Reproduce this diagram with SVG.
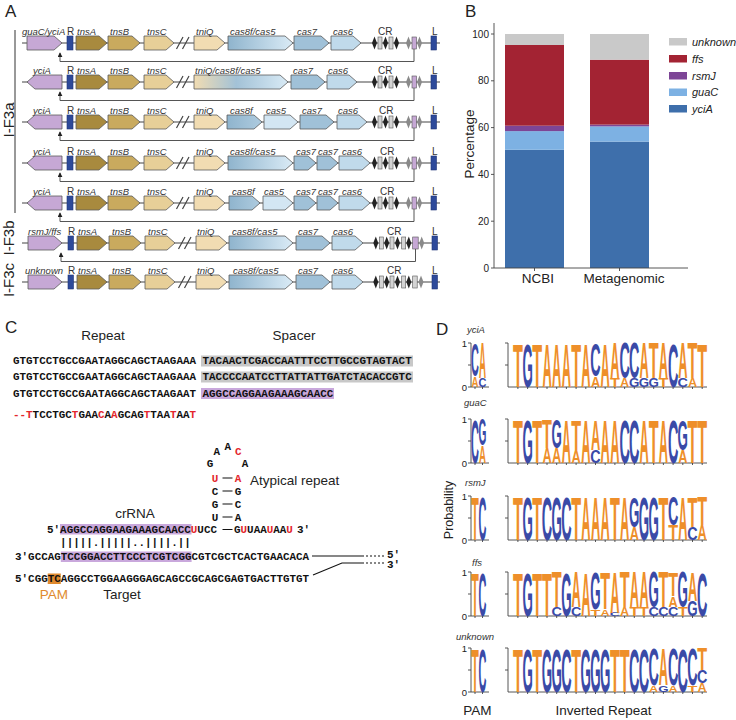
<svg xmlns="http://www.w3.org/2000/svg" width="736" height="720" viewBox="0 0 736 720">
<defs>
<style>
.t{font-family:"Liberation Sans",Arial,sans-serif;fill:#222}
.gl{font-family:"Liberation Sans",Arial,sans-serif;font-style:italic;font-size:9.5px;fill:#333}
.gn{font-family:"Liberation Sans",Arial,sans-serif;font-size:10px;fill:#333}
.pl{font-family:"Liberation Sans",Arial,sans-serif;font-size:17px;fill:#222}
.gene{stroke:#5a5a5a;stroke-width:0.8}
.bb{stroke:#444;stroke-width:1.2;fill:none}
.pu{fill:#c6a8d5}
.ta{fill:#a88a3e}.tb{fill:#c9aa5e}.tc{fill:#e7cf98}.tq{fill:#f1dcb2}
.c7{fill:#a0c1d8}.c6{fill:#c0daeb}.c5{fill:#d3e6f3}
.rl{fill:#2e4a9a;stroke:#1f3577;stroke-width:0.6}
.dk{fill:#222}.gr{fill:#d4d4d4;stroke:#555;stroke-width:0.6}.gd{fill:#8a8a8a}
.crp{fill:#c6a8d5;stroke:#555;stroke-width:0.6}
.cn{fill:none;stroke:#555;stroke-width:1}
.sq{font-family:"Liberation Mono","DejaVu Sans Mono",monospace;font-weight:bold;font-size:10.9px;fill:#111}
.r{fill:#e3262c}
.ax{fill:none;stroke:#444;stroke-width:0.9}
.L{font-family:"Liberation Sans",Arial,sans-serif;font-weight:bold;font-size:100px;text-anchor:middle}
.o{fill:#ee8f2a}.b{fill:#3a4aa7}
.tk{font-family:"Liberation Sans",Arial,sans-serif;font-size:9.5px;fill:#222;text-anchor:end}
</style>
<linearGradient id="g85" x1="0" x2="1" y1="0" y2="0"><stop offset="0" stop-color="#8fb4cd"/><stop offset="1" stop-color="#daebf6"/></linearGradient>
<linearGradient id="g8" x1="0" x2="1" y1="0" y2="0"><stop offset="0" stop-color="#8fb4cd"/><stop offset="1" stop-color="#aecbdf"/></linearGradient>
<linearGradient id="gq" x1="0" x2="1" y1="0" y2="0"><stop offset="0" stop-color="#f1dcb2"/><stop offset="0.45" stop-color="#a3c2d7"/><stop offset="1" stop-color="#d8eaf5"/></linearGradient>
<marker id="ah" viewBox="0 0 6 6" refX="5" refY="3" markerWidth="5" markerHeight="5" orient="auto"><path d="M0,0L6,3L0,6z" fill="#222"/></marker>
<g id="cr5">
<polygon class="dk" points="374.5,-6.5 377,0 374.5,6.5 372,0"/>
<rect class="gr" x="378" y="-6" width="4" height="12"/>
<polygon class="dk" points="385.5,-6.5 388,0 385.5,6.5 383,0"/>
<rect class="gr" x="389" y="-6" width="4" height="12"/>
<polygon class="dk" points="396.5,-6.5 399,0 396.5,6.5 394,0"/>
<polygon class="gd" points="408.5,-6.5 411,0 408.5,6.5 406,0"/>
<rect class="crp" x="412" y="-6" width="4.5" height="12"/>
<polygon class="gd" points="419.5,-6.5 422,0 419.5,6.5 417,0"/>
</g>
</defs>
<rect width="736" height="720" fill="#fff"/>

<!-- Panel labels -->
<text class="pl" x="5" y="17">A</text>
<text class="pl" x="465" y="17">B</text>
<text class="pl" x="5" y="333">C</text>
<text class="pl" x="436" y="335">D</text>

<!-- Panel A group labels -->
<g id="groupA">
<line x1="15" y1="30" x2="15" y2="213" stroke="#333" stroke-width="1"/>
<text class="t" font-size="15" text-anchor="middle" transform="translate(13.5,120) rotate(-90)">I-F3a</text>
<text class="t" font-size="15" text-anchor="middle" transform="translate(13.5,238) rotate(-90)">I-F3b</text>
<text class="t" font-size="15" text-anchor="middle" transform="translate(13.5,280) rotate(-90)">I-F3c</text>
</g>

<!-- Row 1 -->
<g id="row1" transform="translate(0,43)">
<path class="bb" d="M22,0H440"/>
<path class="bb" d="M176.5,6L183,-6M182.5,6L189,-6"/>
<g id="r1-guaC"><polygon class="gene pu" points="27,-7 54,-7 62,0 54,7 27,7"/><text class="gl" x="22" y="-8.5">guaC/yciA</text></g>
<g id="r1-R"><rect class="rl" x="67" y="-7" width="6" height="14"/><text class="gn" x="67" y="-8.5">R</text></g>
<g id="r1-tnsA"><polygon class="gene ta" points="76,-7 99,-7 107,0 99,7 76,7"/><text class="gl" x="77" y="-8.5">tnsA</text></g>
<g id="r1-tnsB"><polygon class="gene tb" points="108,-7 132,-7 140,0 132,7 108,7"/><text class="gl" x="110" y="-8.5">tnsB</text></g>
<g id="r1-tnsC"><polygon class="gene tc" points="144,-7 166,-7 174,0 166,7 144,7"/><text class="gl" x="147" y="-8.5">tnsC</text></g>
<g id="r1-tniQ"><polygon class="gene tq" points="194,-7 217,-7 225,0 217,7 194,7"/><text class="gl" x="196" y="-8.5">tniQ</text></g>
<g id="r1-cas8f5"><polygon class="gene" fill="url(#g85)" points="228,-7 285,-7 293,0 285,7 228,7"/><text class="gl" x="230" y="-8.5">cas8f/cas5</text></g>
<g id="r1-cas7"><polygon class="gene c7" points="294,-7 321,-7 329,0 321,7 294,7"/><text class="gl" x="297" y="-8.5">cas7</text></g>
<g id="r1-cas6"><polygon class="gene c6" points="331,-7 353,-7 361,0 353,7 331,7"/><text class="gl" x="333" y="-8.5">cas6</text></g>
<g id="r1-CR"><use href="#cr5"/><text class="gn" x="378" y="-8.5">CR</text></g>
<g id="r1-L"><rect class="rl" x="431" y="-7" width="5.5" height="14"/><text class="gn" x="432" y="-8.5">L</text></g>
</g>

<!-- Row 2 -->
<g id="row2" transform="translate(0,82)">
<path class="bb" d="M22,0H440"/>
<path class="bb" d="M176.5,6L183,-6M182.5,6L189,-6"/>
<g id="r2-yciA"><polygon class="gene pu" points="27,0 35,-7 62,-7 62,7 35,7"/><text class="gl" x="33" y="-8.5">yciA</text></g>
<g id="r2-R"><rect class="rl" x="67" y="-7" width="6" height="14"/><text class="gn" x="67" y="-8.5">R</text></g>
<g id="r2-tnsA"><polygon class="gene ta" points="76,-7 99,-7 107,0 99,7 76,7"/><text class="gl" x="77" y="-8.5">tnsA</text></g>
<g id="r2-tnsB"><polygon class="gene tb" points="108,-7 132,-7 140,0 132,7 108,7"/><text class="gl" x="110" y="-8.5">tnsB</text></g>
<g id="r2-tnsC"><polygon class="gene tc" points="144,-7 166,-7 174,0 166,7 144,7"/><text class="gl" x="147" y="-8.5">tnsC</text></g>
<g id="r2-tniQ"><polygon class="gene" fill="url(#gq)" points="194,-7 280,-7 288,0 280,7 194,7"/><text class="gl" x="195" y="-8.5">tniQ/cas8f/cas5</text></g>
<g id="r2-cas7"><polygon class="gene c7" points="291,-7 317,-7 325,0 317,7 291,7"/><text class="gl" x="293" y="-8.5">cas7</text></g>
<g id="r2-cas6"><polygon class="gene c6" points="327,-7 349,-7 357,0 349,7 327,7"/><text class="gl" x="328" y="-8.5">cas6</text></g>
<g id="r2-CR"><use href="#cr5"/><text class="gn" x="378" y="-8.5">CR</text></g>
<g id="r2-L"><rect class="rl" x="431" y="-7" width="5.5" height="14"/><text class="gn" x="432" y="-8.5">L</text></g>
</g>

<!-- Row 3 -->
<g id="row3" transform="translate(0,122)">
<path class="bb" d="M22,0H440"/>
<path class="bb" d="M176.5,6L183,-6M182.5,6L189,-6"/>
<g id="r3-yciA"><polygon class="gene pu" points="27,0 35,-7 62,-7 62,7 35,7"/><text class="gl" x="33" y="-8.5">yciA</text></g>
<g id="r3-R"><rect class="rl" x="67" y="-7" width="6" height="14"/><text class="gn" x="67" y="-8.5">R</text></g>
<g id="r3-tnsA"><polygon class="gene ta" points="76,-7 99,-7 107,0 99,7 76,7"/><text class="gl" x="77" y="-8.5">tnsA</text></g>
<g id="r3-tnsB"><polygon class="gene tb" points="108,-7 132,-7 140,0 132,7 108,7"/><text class="gl" x="110" y="-8.5">tnsB</text></g>
<g id="r3-tnsC"><polygon class="gene tc" points="144,-7 166,-7 174,0 166,7 144,7"/><text class="gl" x="147" y="-8.5">tnsC</text></g>
<g id="r3-tniQ"><polygon class="gene tq" points="194,-7 217,-7 225,0 217,7 194,7"/><text class="gl" x="196" y="-8.5">tniQ</text></g>
<g id="r3-cas8f"><polygon class="gene" fill="url(#g8)" points="227,-7 254,-7 262,0 254,7 227,7"/><text class="gl" x="230" y="-8.5">cas8f</text></g>
<g id="r3-cas5"><polygon class="gene c5" points="264,-7 290,-7 298,0 290,7 264,7"/><text class="gl" x="266" y="-8.5">cas5</text></g>
<g id="r3-cas7"><polygon class="gene c7" points="300,-7 326,-7 334,0 326,7 300,7"/><text class="gl" x="302" y="-8.5">cas7</text></g>
<g id="r3-cas6"><polygon class="gene c6" points="337,-7 359,-7 367,0 359,7 337,7"/><text class="gl" x="338" y="-8.5">cas6</text></g>
<g id="r3-CR"><use href="#cr5"/><text class="gn" x="379" y="-8.5">CR</text></g>
<g id="r3-L"><rect class="rl" x="431" y="-7" width="5.5" height="14"/><text class="gn" x="432" y="-8.5">L</text></g>
</g>

<!-- Row 4 -->
<g id="row4" transform="translate(0,163)">
<path class="bb" d="M22,0H440"/>
<path class="bb" d="M176.5,6L183,-6M182.5,6L189,-6"/>
<g id="r4-yciA"><polygon class="gene pu" points="27,0 35,-7 62,-7 62,7 35,7"/><text class="gl" x="33" y="-8.5">yciA</text></g>
<g id="r4-R"><rect class="rl" x="67" y="-7" width="6" height="14"/><text class="gn" x="67" y="-8.5">R</text></g>
<g id="r4-tnsA"><polygon class="gene ta" points="76,-7 99,-7 107,0 99,7 76,7"/><text class="gl" x="77" y="-8.5">tnsA</text></g>
<g id="r4-tnsB"><polygon class="gene tb" points="108,-7 132,-7 140,0 132,7 108,7"/><text class="gl" x="110" y="-8.5">tnsB</text></g>
<g id="r4-tnsC"><polygon class="gene tc" points="144,-7 166,-7 174,0 166,7 144,7"/><text class="gl" x="147" y="-8.5">tnsC</text></g>
<g id="r4-tniQ"><polygon class="gene tq" points="194,-7 217,-7 225,0 217,7 194,7"/><text class="gl" x="196" y="-8.5">tniQ</text></g>
<g id="r4-cas8f5"><polygon class="gene" fill="url(#g85)" points="228,-7 285,-7 293,0 285,7 228,7"/><text class="gl" x="230" y="-8.5">cas8f/cas5</text></g>
<g id="r4-cas7a"><polygon class="gene c7" points="294,-7 308,-7 316,0 308,7 294,7"/><text class="gl" x="296" y="-8.5">cas7</text></g>
<g id="r4-cas7b"><polygon class="gene c7" points="317,-7 330,-7 338,0 330,7 317,7"/><text class="gl" x="318" y="-8.5">cas7</text></g>
<g id="r4-cas6"><polygon class="gene c6" points="339,-7 362,-7 370,0 362,7 339,7"/><text class="gl" x="342" y="-8.5">cas6</text></g>
<g id="r4-CR"><use href="#cr5"/><text class="gn" x="380" y="-8.5">CR</text></g>
<g id="r4-L"><rect class="rl" x="431" y="-7" width="5.5" height="14"/><text class="gn" x="432" y="-8.5">L</text></g>
</g>

<!-- Row 5 -->
<g id="row5" transform="translate(0,203)">
<path class="bb" d="M22,0H440"/>
<path class="bb" d="M176.5,6L183,-6M182.5,6L189,-6"/>
<g id="r5-yciA"><polygon class="gene pu" points="27,0 35,-7 62,-7 62,7 35,7"/><text class="gl" x="33" y="-8.5">yciA</text></g>
<g id="r5-R"><rect class="rl" x="67" y="-7" width="6" height="14"/><text class="gn" x="67" y="-8.5">R</text></g>
<g id="r5-tnsA"><polygon class="gene ta" points="76,-7 99,-7 107,0 99,7 76,7"/><text class="gl" x="77" y="-8.5">tnsA</text></g>
<g id="r5-tnsB"><polygon class="gene tb" points="108,-7 132,-7 140,0 132,7 108,7"/><text class="gl" x="110" y="-8.5">tnsB</text></g>
<g id="r5-tnsC"><polygon class="gene tc" points="144,-7 166,-7 174,0 166,7 144,7"/><text class="gl" x="147" y="-8.5">tnsC</text></g>
<g id="r5-tniQ"><polygon class="gene tq" points="194,-7 217,-7 225,0 217,7 194,7"/><text class="gl" x="196" y="-8.5">tniQ</text></g>
<g id="r5-cas8f"><polygon class="gene" fill="url(#g8)" points="229,-7 252,-7 260,0 252,7 229,7"/><text class="gl" x="232" y="-8.5">cas8f</text></g>
<g id="r5-cas5"><polygon class="gene c5" points="263,-7 285,-7 293,0 285,7 263,7"/><text class="gl" x="264" y="-8.5">cas5</text></g>
<g id="r5-cas7a"><polygon class="gene c7" points="294,-7 308,-7 316,0 308,7 294,7"/><text class="gl" x="296" y="-8.5">cas7</text></g>
<g id="r5-cas7b"><polygon class="gene c7" points="317,-7 330,-7 338,0 330,7 317,7"/><text class="gl" x="318" y="-8.5">cas7</text></g>
<g id="r5-cas6"><polygon class="gene c6" points="339,-7 362,-7 370,0 362,7 339,7"/><text class="gl" x="342" y="-8.5">cas6</text></g>
<g id="r5-CR"><use href="#cr5"/><text class="gn" x="380" y="-8.5">CR</text></g>
<g id="r5-L"><rect class="rl" x="431" y="-7" width="5.5" height="14"/><text class="gn" x="432" y="-8.5">L</text></g>
</g>

<!-- Row 6 -->
<g id="row6" transform="translate(0,243)">
<path class="bb" d="M22,0H440"/>
<path class="bb" d="M178.5,6L185,-6M184.5,6L191,-6"/>
<g id="r6-rsmJ"><polygon class="gene pu" points="28,-7 54,-7 62,0 54,7 28,7"/><text class="gl" x="28" y="-8.5">rsmJ/ffs</text></g>
<g id="r6-R"><rect class="rl" x="68" y="-7" width="5.5" height="14"/><text class="gn" x="68" y="-8.5">R</text></g>
<g id="r6-tnsA"><polygon class="gene ta" points="77,-7 99,-7 107,0 99,7 77,7"/><text class="gl" x="78" y="-8.5">tnsA</text></g>
<g id="r6-tnsB"><polygon class="gene tb" points="109,-7 133,-7 141,0 133,7 109,7"/><text class="gl" x="112" y="-8.5">tnsB</text></g>
<g id="r6-tnsC"><polygon class="gene tc" points="145,-7 167,-7 175,0 167,7 145,7"/><text class="gl" x="148" y="-8.5">tnsC</text></g>
<g id="r6-tniQ"><polygon class="gene tq" points="196,-7 219,-7 227,0 219,7 196,7"/><text class="gl" x="197" y="-8.5">tniQ</text></g>
<g id="r6-cas8f5"><polygon class="gene" fill="url(#g85)" points="229,-7 285,-7 293,0 285,7 229,7"/><text class="gl" x="232" y="-8.5">cas8f/cas5</text></g>
<g id="r6-cas7"><polygon class="gene c7" points="296,-7 322,-7 330,0 322,7 296,7"/><text class="gl" x="298" y="-8.5">cas7</text></g>
<g id="r6-cas6"><polygon class="gene c6" points="332,-7 355,-7 363,0 355,7 332,7"/><text class="gl" x="333" y="-8.5">cas6</text></g>
<g id="r6-CR">
<polygon class="dk" points="375.8,-6.5 378.3,0 375.8,6.5 373.3,0"/>
<rect class="gr" x="379.3" y="-6" width="4" height="12"/>
<polygon class="dk" points="386.7,-6.5 389.2,0 386.7,6.5 384.2,0"/>
<rect class="gr" x="390" y="-6" width="4" height="12"/>
<polygon class="dk" points="397.5,-6.5 400,0 397.5,6.5 395,0"/>
<rect class="gr" x="401.7" y="-6" width="4" height="12"/>
<polygon class="dk" points="408.8,-6.5 411.3,0 408.8,6.5 406.3,0"/>
<rect class="crp" x="412.7" y="-6" width="5.5" height="12"/>
<polygon class="gd" points="421.7,-6.5 424.2,0 421.7,6.5 419.2,0"/>
<text class="gn" x="387" y="-8.5">CR</text></g>
<g id="r6-L"><rect class="rl" x="432" y="-7" width="5.5" height="14"/><text class="gn" x="432" y="-8.5">L</text></g>
</g>

<!-- Row 7 -->
<g id="row7" transform="translate(0,282)">
<path class="bb" d="M22,0H440"/>
<path class="bb" d="M178.5,6L185,-6M184.5,6L191,-6"/>
<g id="r7-unknown"><polygon class="gene pu" points="28,-7 54,-7 62,0 54,7 28,7"/><text class="gl" x="25" y="-8.5">unknown</text></g>
<g id="r7-R"><rect class="rl" x="68" y="-7" width="5.5" height="14"/><text class="gn" x="68" y="-8.5">R</text></g>
<g id="r7-tnsA"><polygon class="gene ta" points="77,-7 99,-7 107,0 99,7 77,7"/><text class="gl" x="78" y="-8.5">tnsA</text></g>
<g id="r7-tnsB"><polygon class="gene tb" points="109,-7 133,-7 141,0 133,7 109,7"/><text class="gl" x="112" y="-8.5">tnsB</text></g>
<g id="r7-tnsC"><polygon class="gene tc" points="145,-7 167,-7 175,0 167,7 145,7"/><text class="gl" x="148" y="-8.5">tnsC</text></g>
<g id="r7-tniQ"><polygon class="gene tq" points="196,-7 219,-7 227,0 219,7 196,7"/><text class="gl" x="197" y="-8.5">tniQ</text></g>
<g id="r7-cas8f5"><polygon class="gene" fill="url(#g85)" points="229,-7 285,-7 293,0 285,7 229,7"/><text class="gl" x="233" y="-8.5">cas8f/cas5</text></g>
<g id="r7-cas7"><polygon class="gene c7" points="296,-7 322,-7 330,0 322,7 296,7"/><text class="gl" x="298" y="-8.5">cas7</text></g>
<g id="r7-cas6"><polygon class="gene c6" points="332,-7 355,-7 363,0 355,7 332,7"/><text class="gl" x="333" y="-8.5">cas6</text></g>
<g id="r7-CR">
<polygon class="dk" points="375.8,-6.5 378.3,0 375.8,6.5 373.3,0"/>
<rect class="gr" x="379.3" y="-6" width="4" height="12"/>
<polygon class="dk" points="386.7,-6.5 389.2,0 386.7,6.5 384.2,0"/>
<rect class="gr" x="390" y="-6" width="4" height="12"/>
<polygon class="dk" points="397.5,-6.5 400,0 397.5,6.5 395,0"/>
<rect class="gr" x="401.7" y="-6" width="4" height="12"/>
<polygon class="dk" points="408.8,-6.5 411.3,0 408.8,6.5 406.3,0"/>
<rect class="gr" x="412.7" y="-6" width="4.5" height="12"/>
<polygon class="gd" points="421,-6.5 423.5,0 421,6.5 418.5,0"/>
<text class="gn" x="387" y="-8.5">CR</text></g>
<g id="r7-L"><rect class="rl" x="432" y="-7" width="5.5" height="14"/><text class="gn" x="432" y="-8.5">L</text></g>
</g>

<!-- Connectors -->
<g id="connectors">
<path class="cn" marker-end="url(#ah)" d="M414,49V61.5H60V53"/>
<path class="cn" marker-end="url(#ah)" d="M414,88V100.5H60V92"/>
<path class="cn" marker-end="url(#ah)" d="M414,128V140.5H60V132"/>
<path class="cn" marker-end="url(#ah)" d="M414,169V181.5H60V173"/>
<path class="cn" marker-end="url(#ah)" d="M414,209V221.5H60V213"/>
<path class="cn" marker-end="url(#ah)" d="M415.5,249V261.5H61V253"/>
</g>

<!-- Panel B -->
<g id="chartB">
<g id="bar-ncbi">
<rect x="505" y="149.8" width="59" height="118.2" fill="#3e6fab"/>
<rect x="505" y="131.1" width="59" height="18.7" fill="#7db1e3"/>
<rect x="505" y="125.7" width="59" height="5.4" fill="#7d4596"/>
<rect x="505" y="45" width="59" height="80.7" fill="#a32333"/>
<rect x="505" y="34" width="59" height="11" fill="#c9c9c9"/>
</g>
<g id="bar-meta">
<rect x="590" y="141.6" width="59" height="126.4" fill="#3e6fab"/>
<rect x="590" y="126.4" width="59" height="15.2" fill="#7db1e3"/>
<rect x="590" y="124.6" width="59" height="1.8" fill="#7d4596"/>
<rect x="590" y="59.7" width="59" height="64.9" fill="#a32333"/>
<rect x="590" y="34" width="59" height="25.7" fill="#c9c9c9"/>
</g>
<path class="ax" stroke-width="1.1" d="M494,23V268H688M491,268H494M491,221.2H494M491,174.4H494M491,127.6H494M491,80.8H494M491,34H494M534.5,268v3M619.5,268v3"/>
<g class="t" font-size="10" text-anchor="end">
<text x="489" y="271.5">0</text>
<text x="489" y="224.7">20</text>
<text x="489" y="177.9">40</text>
<text x="489" y="131.1">60</text>
<text x="489" y="84.3">80</text>
<text x="489" y="37.5">100</text>
</g>
<text class="t" font-size="13.5" text-anchor="middle" transform="translate(474,144) rotate(-90)">Percentage</text>
<text class="t" font-size="13.5" text-anchor="middle" x="538" y="283">NCBI</text>
<text class="t" font-size="13.5" text-anchor="middle" x="624" y="283">Metagenomic</text>
<g id="legend">
<rect x="669" y="38" width="18" height="7.5" fill="#c9c9c9"/>
<rect x="669" y="55" width="18" height="7.5" fill="#a32333"/>
<rect x="669" y="72" width="18" height="7.5" fill="#7d4596"/>
<rect x="669" y="88.5" width="18" height="7.5" fill="#7db1e3"/>
<rect x="669" y="105" width="18" height="7.5" fill="#3e6fab"/>
<g class="t" font-size="11" font-style="italic">
<text x="692" y="45.5">unknown</text>
<text x="692" y="62.5">ffs</text>
<text x="692" y="79.5">rsmJ</text>
<text x="692" y="96">guaC</text>
<text x="692" y="112.5">yciA</text>
</g>
</g>
</g>

<!-- Panel C -->
<g id="panelC">
<text class="t" font-size="13.5" text-anchor="middle" x="103" y="340">Repeat</text>
<text class="t" font-size="13.5" text-anchor="middle" x="294" y="340">Spacer</text>
<rect x="201" y="355.5" width="212" height="11" fill="#c8c8c8"/>
<rect x="201" y="371.5" width="212" height="11" fill="#c8c8c8"/>
<rect x="201" y="388" width="133" height="11" fill="#c9a8dc"/>
<text class="sq" x="13" y="364">GTGTCCTGCCGAATAGGCAGCTAAGAAA TACAACTCGACCAATTTCCTTGCCGTAGTACT</text>
<text class="sq" x="13" y="380">GTGTCCTGCCGAATAGGCAGCTAAGAAA TACCCCAATCCTTATTATTGATCTACACCGTC</text>
<text class="sq" x="13" y="397">GTGTCCTGCCGAATAGGCAGCTAAGAAT AGGCCAGGAAGAAAGCAACC</text>
<text class="sq" x="13" y="418"><tspan class="r">--T</tspan>TCCTGC<tspan class="r">T</tspan>GAA<tspan class="r">C</tspan>A<tspan class="r">A</tspan>GCAG<tspan class="r">T</tspan>TAA<tspan class="r">T</tspan>AA<tspan class="r">T</tspan></text>

<g id="stemloop" class="sq" text-anchor="middle">
<text x="227.7" y="450">A</text>
<text x="216.7" y="455">A</text>
<text x="238.3" y="455" class="r">C</text>
<text x="210" y="467">G</text>
<text x="245" y="467">A</text>
<text x="215" y="481.5" class="r">U</text><text x="238" y="481.5" class="r">A</text>
<text x="215" y="494.5">C</text><text x="238" y="494.5">G</text>
<text x="215" y="507.5">G</text><text x="238" y="507.5">C</text>
<text x="215" y="520.5">U</text><text x="238" y="520.5">A</text>
</g>
<path d="M222.5,478H232.5M222.5,491H232.5M222.5,504H232.5M222.5,517H232.5M222.5,529.5H232.5" stroke="#111" stroke-width="1.1"/>
<text class="t" font-size="13.5" x="250" y="485">Atypical repeat</text>
<text class="t" font-size="13.5" text-anchor="middle" x="135" y="518">crRNA</text>

<rect x="60" y="524" width="131.5" height="10.5" fill="#c9a8dc"/>
<text class="sq" x="47" y="533">5′</text>
<text class="sq" x="60.1" y="533">AGGCCAGGAAGAAAGCAACC<tspan class="r">U</tspan>UCC</text>
<text class="sq" x="234" y="533">G<tspan class="r">U</tspan>UAA<tspan class="r">U</tspan>AA<tspan class="r">U</tspan></text>
<text class="sq" x="297" y="533">3′</text>
<text class="sq" x="60.1" y="546">|||||.|||||..||||.||</text>

<rect x="60.8" y="551.5" width="130.8" height="10.5" fill="#c9a8dc"/>
<text class="sq" x="15" y="560">3′</text>
<text class="sq" x="28.1" y="560">GCCAGTCCGGACCTTCCCTCGTCGGCGTCGCTCACTGAACACA</text>
<rect x="47.7" y="573.5" width="13.1" height="10.5" fill="#e08a2e"/>
<text class="sq" x="15" y="582">5′</text>
<text class="sq" x="28.1" y="582">CGGTCAGGCCTGGAAGGGAGCAGCCGCAGCGAGTGACTTGTGT</text>
<path d="M312,556H362M313,575L342,563H362" fill="none" stroke="#111" stroke-width="1.1"/>
<path d="M362,556H384M362,563H384" fill="none" stroke="#111" stroke-width="1.1" stroke-dasharray="2,2"/>
<text class="sq" x="387" y="558">5′</text>
<text class="sq" x="387" y="567.5">3′</text>
<text class="t" font-size="13.5" text-anchor="middle" x="54" y="599" fill="#e08a2e" style="fill:#e08a2e">PAM</text>
<text class="t" font-size="13.5" text-anchor="middle" x="122" y="599">Target</text>
</g>

<!-- Panel D -->
<g id="panelD">
<text class="t" font-size="12.5" text-anchor="middle" transform="translate(453,510) rotate(-90)">Probability</text>
<text class="t" font-size="13.5" text-anchor="middle" x="477.5" y="715">PAM</text>
<text class="t" font-size="13.5" text-anchor="middle" x="603.5" y="715">Inverted Repeat</text>

<g id="logo-yciA">
<text class="gl" x="467" y="333">yciA</text>
<text class="tk" x="467" y="346.5">1</text><text class="tk" x="467" y="390.5">0</text>
<path class="ax" d="M468,343H471V387H489M468,365H471M468,387H471M475,387v2M482.5,387v2"/>
<path class="ax" d="M505,343H508V387H707M505,365H508M517.9,387v2m9.7,-2v2m9.7,-2v2m9.7,-2v2m9.7,-2v2m9.7,-2v2m9.7,-2v2m9.7,-2v2m9.7,-2v2m9.7,-2v2m9.7,-2v2m9.7,-2v2m9.7,-2v2m9.7,-2v2m9.7,-2v2m9.7,-2v2m9.7,-2v2m9.7,-2v2m9.7,-2v2m9.7,-2v2"/>
<g transform="translate(0,387)">
<text class="L o" transform="translate(475,0) scale(.0972,.1536)">A</text>
<text class="L b" transform="translate(475,-11) scale(.1094,.4609)">C</text>
<text class="L b" transform="translate(482.5,0) scale(.1094,.1229)">C</text>
<text class="L o" transform="translate(482.5,-8.8) scale(.0972,.4916)">A</text>
<text class="L o" transform="translate(517.9,0) scale(.1614,.6145)">T</text>
<text class="L b" transform="translate(527.6,0) scale(.1333,.6145)">G</text>
<text class="L o" transform="translate(537.3,0) scale(.1614,.6145)">T</text>
<text class="L o" transform="translate(547,0) scale(.1278,.6145)">A</text>
<text class="L o" transform="translate(556.7,0) scale(.1278,.6145)">A</text>
<text class="L o" transform="translate(566.4,0) scale(.1278,.6145)">A</text>
<text class="L o" transform="translate(576.1,0) scale(.1614,.6145)">T</text>
<text class="L o" transform="translate(585.8,0) scale(.1278,.6145)">A</text>
<text class="L o" transform="translate(595.5,0) scale(.1278,.1536)">A</text>
<text class="L b" transform="translate(595.5,-11) scale(.1438,.4609)">C</text>
<text class="L o" transform="translate(605.2,0) scale(.1278,.6145)">A</text>
<text class="L o" transform="translate(614.9,0) scale(.1614,.1229)">T</text>
<text class="L o" transform="translate(614.9,-8.8) scale(.1278,.4916)">A</text>
<text class="L o" transform="translate(624.6,0) scale(.1278,.1229)">A</text>
<text class="L b" transform="translate(624.6,-8.8) scale(.1438,.4916)">C</text>
<text class="L b" transform="translate(634.3,0) scale(.1333,.1229)">G</text>
<text class="L b" transform="translate(634.3,-8.8) scale(.1438,.4916)">C</text>
<text class="L b" transform="translate(644,0) scale(.1333,.1229)">G</text>
<text class="L o" transform="translate(644,-8.8) scale(.1278,.4916)">A</text>
<text class="L b" transform="translate(653.7,0) scale(.1333,.1229)">G</text>
<text class="L o" transform="translate(653.7,-8.8) scale(.1614,.4916)">T</text>
<text class="L o" transform="translate(663.4,0) scale(.1614,.1229)">T</text>
<text class="L o" transform="translate(663.4,-8.8) scale(.1278,.4916)">A</text>
<text class="L b" transform="translate(673.1,0) scale(.1438,.6145)">C</text>
<text class="L b" transform="translate(682.8,0) scale(.1438,.1229)">C</text>
<text class="L o" transform="translate(682.8,-8.8) scale(.1278,.4916)">A</text>
<text class="L o" transform="translate(692.5,0) scale(.1278,.1229)">A</text>
<text class="L o" transform="translate(692.5,-8.8) scale(.1614,.4916)">T</text>
<text class="L o" transform="translate(702.2,0) scale(.1614,.6145)">T</text>
</g>
</g>

<g id="logo-guaC">
<text class="gl" x="464" y="406">guaC</text>
<text class="tk" x="467" y="422.5">1</text><text class="tk" x="467" y="466.5">0</text>
<path class="ax" d="M468,419H471V463H489M468,441H471M468,463H471M475,463v2M482.5,463v2"/>
<path class="ax" d="M505,419H508V463H707M505,441H508M517.9,463v2m9.7,-2v2m9.7,-2v2m9.7,-2v2m9.7,-2v2m9.7,-2v2m9.7,-2v2m9.7,-2v2m9.7,-2v2m9.7,-2v2m9.7,-2v2m9.7,-2v2m9.7,-2v2m9.7,-2v2m9.7,-2v2m9.7,-2v2m9.7,-2v2m9.7,-2v2m9.7,-2v2m9.7,-2v2"/>
<g transform="translate(0,463)">
<text class="L b" transform="translate(475,0) scale(.1094,.6145)">C</text>
<text class="L o" transform="translate(482.5,0) scale(.0972,.2458)">A</text>
<text class="L b" transform="translate(482.5,-17.6) scale(.1014,.3687)">G</text>
<text class="L o" transform="translate(517.9,0) scale(.1614,.6145)">T</text>
<text class="L b" transform="translate(527.6,0) scale(.1333,.6145)">G</text>
<text class="L o" transform="translate(537.3,0) scale(.1614,.6145)">T</text>
<text class="L o" transform="translate(547,0) scale(.1278,.2151)">A</text>
<text class="L o" transform="translate(547,-15.4) scale(.1614,.3994)">T</text>
<text class="L o" transform="translate(556.7,0) scale(.1278,.2151)">A</text>
<text class="L b" transform="translate(556.7,-15.4) scale(.1333,.3994)">G</text>
<text class="L o" transform="translate(566.4,0) scale(.1278,.6145)">A</text>
<text class="L o" transform="translate(576.1,0) scale(.1278,.1844)">A</text>
<text class="L o" transform="translate(576.1,-13.2) scale(.1614,.4302)">T</text>
<text class="L o" transform="translate(585.8,0) scale(.1278,.6145)">A</text>
<text class="L b" transform="translate(595.5,0) scale(.1438,.1844)">C</text>
<text class="L o" transform="translate(595.5,-13.2) scale(.1278,.4302)">A</text>
<text class="L o" transform="translate(605.2,0) scale(.1278,.6145)">A</text>
<text class="L o" transform="translate(614.9,0) scale(.1278,.6145)">A</text>
<text class="L b" transform="translate(624.6,0) scale(.1438,.6145)">C</text>
<text class="L b" transform="translate(634.3,0) scale(.1438,.6145)">C</text>
<text class="L o" transform="translate(644,0) scale(.1278,.6145)">A</text>
<text class="L o" transform="translate(653.7,0) scale(.1614,.6145)">T</text>
<text class="L o" transform="translate(663.4,0) scale(.1278,.6145)">A</text>
<text class="L b" transform="translate(673.1,0) scale(.1438,.6145)">C</text>
<text class="L o" transform="translate(682.8,0) scale(.1278,.1844)">A</text>
<text class="L b" transform="translate(682.8,-13.2) scale(.1333,.4302)">G</text>
<text class="L o" transform="translate(692.5,0) scale(.1614,.6145)">T</text>
<text class="L o" transform="translate(702.2,0) scale(.1614,.6145)">T</text>
</g>
</g>

<g id="logo-rsmJ">
<text class="gl" x="465" y="486">rsmJ</text>
<text class="tk" x="467" y="499.5">1</text><text class="tk" x="467" y="543.5">0</text>
<path class="ax" d="M468,496H471V540H489M468,518H471M468,540H471M475,540v2M482.5,540v2"/>
<path class="ax" d="M505,496H508V540H707M505,518H508M517.9,540v2m9.7,-2v2m9.7,-2v2m9.7,-2v2m9.7,-2v2m9.7,-2v2m9.7,-2v2m9.7,-2v2m9.7,-2v2m9.7,-2v2m9.7,-2v2m9.7,-2v2m9.7,-2v2m9.7,-2v2m9.7,-2v2m9.7,-2v2m9.7,-2v2m9.7,-2v2m9.7,-2v2m9.7,-2v2"/>
<g transform="translate(0,540)">
<text class="L o" transform="translate(475,0) scale(.1228,.6145)">T</text>
<text class="L b" transform="translate(482.5,0) scale(.1094,.6145)">C</text>
<text class="L o" transform="translate(517.9,0) scale(.1614,.6145)">T</text>
<text class="L b" transform="translate(527.6,0) scale(.1333,.6145)">G</text>
<text class="L o" transform="translate(537.3,0) scale(.1614,.6145)">T</text>
<text class="L b" transform="translate(547,0) scale(.1438,.6145)">C</text>
<text class="L b" transform="translate(556.7,0) scale(.1333,.6145)">G</text>
<text class="L b" transform="translate(566.4,0) scale(.1438,.6145)">C</text>
<text class="L o" transform="translate(576.1,0) scale(.1614,.6145)">T</text>
<text class="L o" transform="translate(585.8,0) scale(.1278,.6145)">A</text>
<text class="L o" transform="translate(595.5,0) scale(.1278,.6145)">A</text>
<text class="L o" transform="translate(605.2,0) scale(.1278,.6145)">A</text>
<text class="L o" transform="translate(614.9,0) scale(.1614,.6145)">T</text>
<text class="L o" transform="translate(624.6,0) scale(.1278,.6145)">A</text>
<text class="L o" transform="translate(634.3,0) scale(.1278,.1844)">A</text>
<text class="L b" transform="translate(634.3,-13.2) scale(.1333,.4302)">G</text>
<text class="L b" transform="translate(644,0) scale(.1333,.6145)">G</text>
<text class="L b" transform="translate(653.7,0) scale(.1333,.6145)">G</text>
<text class="L o" transform="translate(663.4,0) scale(.1614,.6145)">T</text>
<text class="L o" transform="translate(673.1,0) scale(.1614,.2151)">T</text>
<text class="L b" transform="translate(673.1,-15.4) scale(.1438,.3994)">C</text>
<text class="L o" transform="translate(682.8,0) scale(.1278,.6145)">A</text>
<text class="L b" transform="translate(692.5,0) scale(.1438,.1844)">C</text>
<text class="L o" transform="translate(692.5,-13.2) scale(.1614,.4302)">T</text>
<text class="L o" transform="translate(702.2,0) scale(.1278,.2151)">A</text>
<text class="L o" transform="translate(702.2,-15.4) scale(.1614,.3994)">T</text>
</g>
</g>

<g id="logo-ffs">
<text class="gl" x="472" y="566">ffs</text>
<text class="tk" x="467" y="575.5">1</text><text class="tk" x="467" y="619.5">0</text>
<path class="ax" d="M468,572H471V616H489M468,594H471M468,616H471M475,616v2M482.5,616v2"/>
<path class="ax" d="M505,572H508V616H707M505,594H508M517.9,616v2m9.7,-2v2m9.7,-2v2m9.7,-2v2m9.7,-2v2m9.7,-2v2m9.7,-2v2m9.7,-2v2m9.7,-2v2m9.7,-2v2m9.7,-2v2m9.7,-2v2m9.7,-2v2m9.7,-2v2m9.7,-2v2m9.7,-2v2m9.7,-2v2m9.7,-2v2m9.7,-2v2m9.7,-2v2"/>
<g transform="translate(0,616)">
<text class="L o" transform="translate(475,0) scale(.1228,.6145)">T</text>
<text class="L b" transform="translate(482.5,0) scale(.1094,.6145)">C</text>
<text class="L o" transform="translate(517.9,0) scale(.1614,.6145)">T</text>
<text class="L b" transform="translate(527.6,0) scale(.1333,.6145)">G</text>
<text class="L o" transform="translate(537.3,0) scale(.1614,.6145)">T</text>
<text class="L o" transform="translate(547,0) scale(.1614,.6145)">T</text>
<text class="L b" transform="translate(556.7,0) scale(.1438,.1229)">C</text>
<text class="L o" transform="translate(556.7,-8.8) scale(.1614,.4916)">T</text>
<text class="L b" transform="translate(566.4,0) scale(.1333,.6145)">G</text>
<text class="L b" transform="translate(576.1,0) scale(.1438,.1229)">C</text>
<text class="L o" transform="translate(576.1,-8.8) scale(.1278,.4916)">A</text>
<text class="L o" transform="translate(585.8,0) scale(.1278,.6145)">A</text>
<text class="L o" transform="translate(595.5,0) scale(.1614,.0922)">T</text>
<text class="L b" transform="translate(595.5,-6.6) scale(.1333,.5223)">G</text>
<text class="L o" transform="translate(605.2,0) scale(.1278,.0922)">A</text>
<text class="L o" transform="translate(605.2,-6.6) scale(.1614,.5223)">T</text>
<text class="L b" transform="translate(614.9,0) scale(.1438,.0492)">C</text>
<text class="L o" transform="translate(614.9,-3.5) scale(.1278,.5653)">A</text>
<text class="L o" transform="translate(624.6,0) scale(.1278,.1229)">A</text>
<text class="L o" transform="translate(624.6,-8.8) scale(.1614,.4916)">T</text>
<text class="L o" transform="translate(634.3,0) scale(.1614,.1229)">T</text>
<text class="L o" transform="translate(634.3,-8.8) scale(.1278,.4916)">A</text>
<text class="L o" transform="translate(644,0) scale(.1614,.1229)">T</text>
<text class="L o" transform="translate(644,-8.8) scale(.1278,.4916)">A</text>
<text class="L b" transform="translate(653.7,0) scale(.1438,.1229)">C</text>
<text class="L b" transform="translate(653.7,-8.8) scale(.1333,.4916)">G</text>
<text class="L b" transform="translate(663.4,0) scale(.1438,.1229)">C</text>
<text class="L o" transform="translate(663.4,-8.8) scale(.1614,.4916)">T</text>
<text class="L b" transform="translate(673.1,0) scale(.1438,.1229)">C</text>
<text class="L o" transform="translate(673.1,-8.8) scale(.1278,.1536)">A</text>
<text class="L o" transform="translate(673.1,-19.8) scale(.1614,.338)">T</text>
<text class="L o" transform="translate(682.8,0) scale(.1614,.1229)">T</text>
<text class="L b" transform="translate(682.8,-8.8) scale(.1333,.4916)">G</text>
<text class="L b" transform="translate(692.5,0) scale(.1333,.2151)">G</text>
<text class="L o" transform="translate(692.5,-15.4) scale(.1278,.3994)">A</text>
<text class="L b" transform="translate(702.2,0) scale(.1438,.6145)">C</text>
</g>
</g>

<g id="logo-unknown">
<text class="gl" x="456" y="640">unknown</text>
<text class="tk" x="467" y="651.5">1</text><text class="tk" x="467" y="695.5">0</text>
<path class="ax" d="M468,648H471V692H489M468,670H471M468,692H471M475,692v2M482.5,692v2"/>
<path class="ax" d="M505,648H508V692H707M505,670H508M517.9,692v2m9.7,-2v2m9.7,-2v2m9.7,-2v2m9.7,-2v2m9.7,-2v2m9.7,-2v2m9.7,-2v2m9.7,-2v2m9.7,-2v2m9.7,-2v2m9.7,-2v2m9.7,-2v2m9.7,-2v2m9.7,-2v2m9.7,-2v2m9.7,-2v2m9.7,-2v2m9.7,-2v2m9.7,-2v2"/>
<g transform="translate(0,692)">
<text class="L o" transform="translate(475,0) scale(.1228,.6145)">T</text>
<text class="L b" transform="translate(482.5,0) scale(.1094,.6145)">C</text>
<text class="L o" transform="translate(517.9,0) scale(.1614,.6145)">T</text>
<text class="L b" transform="translate(527.6,0) scale(.1333,.6145)">G</text>
<text class="L o" transform="translate(537.3,0) scale(.1614,.6145)">T</text>
<text class="L b" transform="translate(547,0) scale(.1333,.6145)">G</text>
<text class="L b" transform="translate(556.7,0) scale(.1333,.6145)">G</text>
<text class="L b" transform="translate(566.4,0) scale(.1438,.6145)">C</text>
<text class="L o" transform="translate(576.1,0) scale(.1614,.6145)">T</text>
<text class="L b" transform="translate(585.8,0) scale(.1333,.6145)">G</text>
<text class="L b" transform="translate(595.5,0) scale(.1333,.6145)">G</text>
<text class="L b" transform="translate(605.2,0) scale(.1333,.6145)">G</text>
<text class="L o" transform="translate(614.9,0) scale(.1614,.6145)">T</text>
<text class="L o" transform="translate(624.6,0) scale(.1614,.6145)">T</text>
<text class="L b" transform="translate(634.3,0) scale(.1438,.6145)">C</text>
<text class="L b" transform="translate(644,0) scale(.1438,.6145)">C</text>
<text class="L o" transform="translate(653.7,0) scale(.1278,.0922)">A</text>
<text class="L b" transform="translate(653.7,-6.6) scale(.1438,.5223)">C</text>
<text class="L b" transform="translate(663.4,0) scale(.1333,.0922)">G</text>
<text class="L o" transform="translate(663.4,-6.6) scale(.1278,.5223)">A</text>
<text class="L o" transform="translate(673.1,0) scale(.1278,.0922)">A</text>
<text class="L b" transform="translate(673.1,-6.6) scale(.1438,.5223)">C</text>
<text class="L b" transform="translate(682.8,0) scale(.1438,.6145)">C</text>
<text class="L o" transform="translate(692.5,0) scale(.1614,.0922)">T</text>
<text class="L b" transform="translate(692.5,-6.6) scale(.1438,.5223)">C</text>
<text class="L o" transform="translate(702.2,0) scale(.1278,.1229)">A</text>
<text class="L b" transform="translate(702.2,-8.8) scale(.1438,.1844)">C</text>
<text class="L o" transform="translate(702.2,-22) scale(.1614,.3073)">T</text>
</g>
</g>
</g>
</svg>
